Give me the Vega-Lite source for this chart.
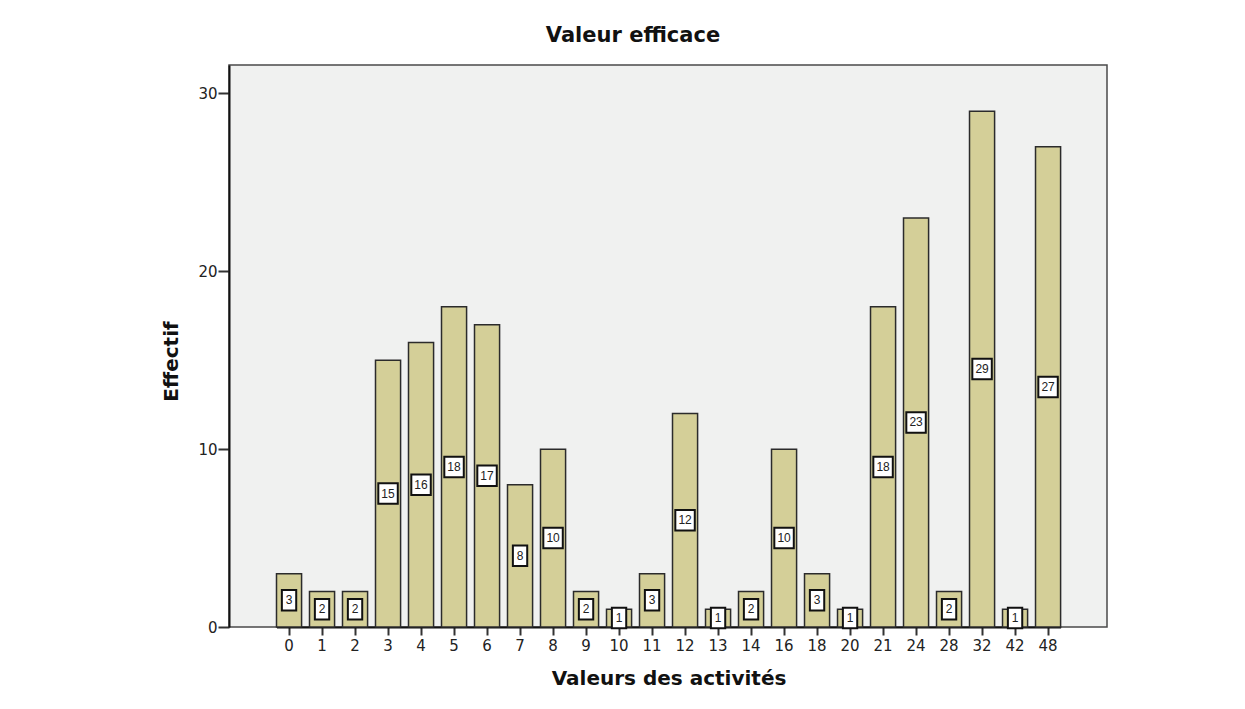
{
  "$schema": "https://vega.github.io/schema/vega-lite/v6.json",
  "autosize": {"type": "none"},
  "width": 878,
  "height": 562,
  "padding": {"left": 229, "top": 65, "right": 138, "bottom": 82},
  "background": "white",
  "title": {
    "text": "Valeur efficace",
    "font": "DejaVu Sans",
    "fontSize": 21,
    "fontWeight": "bold",
    "color": "#111111",
    "anchor": "middle",
    "dx": -35,
    "offset": 2,
    "baseline": "alphabetic"
  },
  "config": {
    "view": {"fill": "#F0F1F0", "stroke": "#4a4a4a", "strokeWidth": 1.5}
  },
  "data": {
    "values": [
      {"valeur": 0, "count": 3},
      {"valeur": 1, "count": 2},
      {"valeur": 2, "count": 2},
      {"valeur": 3, "count": 15},
      {"valeur": 4, "count": 16},
      {"valeur": 5, "count": 18},
      {"valeur": 6, "count": 17},
      {"valeur": 7, "count": 8},
      {"valeur": 8, "count": 10},
      {"valeur": 9, "count": 2},
      {"valeur": 10, "count": 1},
      {"valeur": 11, "count": 3},
      {"valeur": 12, "count": 12},
      {"valeur": 13, "count": 1},
      {"valeur": 14, "count": 2},
      {"valeur": 16, "count": 10},
      {"valeur": 18, "count": 3},
      {"valeur": 20, "count": 1},
      {"valeur": 21, "count": 18},
      {"valeur": 24, "count": 23},
      {"valeur": 28, "count": 2},
      {"valeur": 32, "count": 29},
      {"valeur": 42, "count": 1},
      {"valeur": 48, "count": 27}
    ]
  },
  "encoding": {
    "x": {
      "field": "valeur",
      "type": "ordinal",
      "scale": {"range": [47.5, 831.6], "paddingInner": 0.24, "paddingOuter": 0},
      "axis": {
        "title": "Valeurs des activités",
        "titleFont": "DejaVu Sans",
        "titleFontSize": 20,
        "titleFontWeight": "bold",
        "titleColor": "#111111",
        "titlePadding": 15,
        "labelFont": "DejaVu Sans",
        "labelFontSize": 15,
        "labelColor": "#222222",
        "labelAngle": 0,
        "labelPadding": 3,
        "tickSize": 8,
        "tickWidth": 2,
        "tickColor": "#333333",
        "domainColor": "#111111",
        "domainWidth": 2
      }
    }
  },
  "layer": [
    {
      "mark": {"type": "bar", "fill": "#D4CF98", "stroke": "#2b2b2b", "strokeWidth": 1.5},
      "encoding": {
        "y": {
          "field": "count",
          "type": "quantitative",
          "scale": {"domain": [0, 31.6], "nice": false},
          "axis": {
            "title": "Effectif",
            "titleFont": "DejaVu Sans",
            "titleFontSize": 20,
            "titleFontWeight": "bold",
            "titleColor": "#111111",
            "titlePadding": 16,
            "titleY": 296,
            "values": [0, 10, 20, 30],
            "grid": false,
            "labelFont": "DejaVu Sans",
            "labelFontSize": 15,
            "labelColor": "#222222",
            "labelPadding": 1,
            "tickSize": 11,
            "tickWidth": 2,
            "tickColor": "#333333",
            "domainColor": "#111111",
            "domainWidth": 2
          }
        }
      }
    },
    {
      "mark": {"type": "point", "filled": true, "fill": "white", "stroke": "#111111", "strokeWidth": 2, "opacity": 1, "size": 420},
      "encoding": {
        "y": {
          "field": "count",
          "type": "quantitative",
          "scale": {"domain": [0, 63.2], "nice": false},
          "axis": null
        },
        "shape": {
          "condition": {"test": "datum.count >= 10", "value": "M-0.95,-1H0.95V1H-0.95Z"},
          "value": "M-0.7,-1H0.7V1H-0.7Z"
        }
      }
    },
    {
      "mark": {"type": "text", "font": "Liberation Sans", "fontSize": 12, "color": "#222222"},
      "encoding": {
        "y": {
          "field": "count",
          "type": "quantitative",
          "scale": {"domain": [0, 63.2], "nice": false},
          "axis": null
        },
        "text": {"field": "count", "type": "quantitative"}
      }
    }
  ],
  "resolve": {"scale": {"y": "independent"}}
}
